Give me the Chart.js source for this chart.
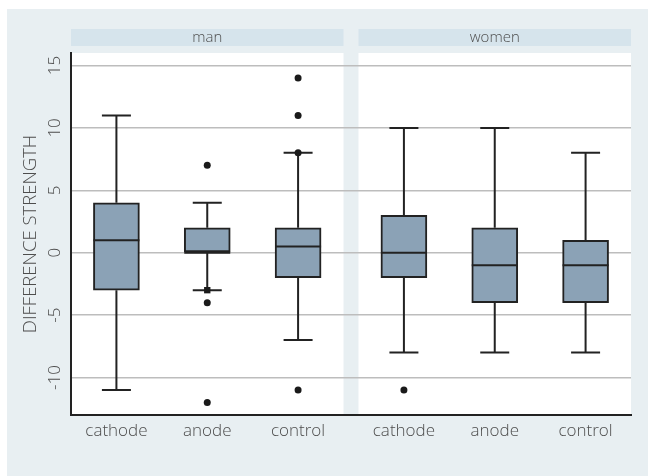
<!DOCTYPE html>
<html>
<head>
<meta charset="utf-8">
<title>Difference strength by stimulation</title>
<script src="https://cdn.jsdelivr.net/npm/chart.js@4"></script>
<style>
  html, body { margin: 0; padding: 0; background: #fff; }
  canvas { display: block; }
</style>
</head>
<body>
<canvas id="chart" width="648" height="476"></canvas>
<script>
// Data: one entry per panel, then per category
const panels = ['man', 'women'];
const categories = ['cathode', 'anode', 'control'];
const q1 = [[-3, 0, -2], [-2, -4, -4]];
const median = [[1, 0, 0.5], [0, -1, -1]];
const q3 = [[4, 2, 2], [3, 2, 1]];
const whiskerLow = [[-11, -3, -7], [-8, -8, -8]];
const whiskerHigh = [[11, 4, 8], [10, 10, 8]];
const outliers = [[[], [7, -4, -12], [14, 11, 8, -11]], [[-11], [], []]];
const marked = [[[], [-3], []], [[], [], []]];
const yTicks = [-10, -5, 0, 5, 10, 15];
const yMin = -13, yMax = 16;

const GAP = 0.165; // space between the two panels, in category widths
const BOX_W = 46;
const CAP_W = 29;
const LINE = '#222';
const TEXT = '#4d4d4d';
const FONT = '"Open Sans", "DejaVu Sans", sans-serif';

function panelStart(p) { return p * (categories.length + GAP); }
function pos(p, c) { return panelStart(p) + c + 0.5; }

const boxData = [];
const outlierData = [];
const markedData = [];
const tickPos = [];
const tickLabels = [];
panels.forEach((name, p) => {
    categories.forEach((cat, c) => {
        const x = pos(p, c);
        tickPos.push(x);
        tickLabels.push(cat);
        boxData.push({ x: x, y: [q1[p][c], q3[p][c]], p: p, c: c });
        outliers[p][c].forEach(v => outlierData.push({ x: x, y: v }));
        marked[p][c].forEach(v => markedData.push({ x: x, y: v }));
    });
});

// Background, white panels and strip headers
const panelBg = {
    id: 'panelBg',
    beforeDraw(chart) {
        const { ctx, chartArea: a, scales: { x } } = chart;
        ctx.save();
        ctx.fillStyle = '#e8eff2';
        ctx.fillRect(7, 9, chart.width - 7, chart.height - 9);
        panels.forEach((name, p) => {
            const l = x.getPixelForValue(panelStart(p));
            const r = x.getPixelForValue(panelStart(p) + categories.length);
            ctx.fillStyle = '#fff';
            ctx.fillRect(l, a.top, r - l, a.bottom - a.top);
            ctx.fillStyle = '#d6e4ec';
            ctx.fillRect(l, a.top - 24, r - l, 17);
            ctx.fillStyle = TEXT;
            ctx.font = '300 15px ' + FONT;
            ctx.textAlign = 'center';
            ctx.textBaseline = 'middle';
            ctx.fillText(name, (l + r) / 2, a.top - 15.5);
        });
        ctx.restore();
    }
};

// Whiskers and caps behind the boxes, medians on top
const boxParts = {
    id: 'boxParts',
    beforeDatasetsDraw(chart) {
        const { ctx, scales: { x, y } } = chart;
        ctx.save();
        ctx.strokeStyle = LINE;
        ctx.lineWidth = 2;
        boxData.forEach(b => {
            const px = x.getPixelForValue(b.x);
            const lo = y.getPixelForValue(whiskerLow[b.p][b.c]);
            const hi = y.getPixelForValue(whiskerHigh[b.p][b.c]);
            ctx.beginPath();
            ctx.moveTo(px, y.getPixelForValue(q3[b.p][b.c]));
            ctx.lineTo(px, hi);
            ctx.moveTo(px, y.getPixelForValue(q1[b.p][b.c]));
            ctx.lineTo(px, lo);
            ctx.moveTo(px - CAP_W / 2, hi);
            ctx.lineTo(px + CAP_W / 2, hi);
            ctx.moveTo(px - CAP_W / 2, lo);
            ctx.lineTo(px + CAP_W / 2, lo);
            ctx.stroke();
        });
        ctx.restore();
    },
    afterDatasetsDraw(chart) {
        const { ctx, scales: { x, y } } = chart;
        ctx.save();
        ctx.strokeStyle = LINE;
        ctx.lineWidth = 2;
        boxData.forEach(b => {
            const px = x.getPixelForValue(b.x);
            const m = y.getPixelForValue(median[b.p][b.c]);
            ctx.beginPath();
            ctx.moveTo(px - BOX_W / 2, m);
            ctx.lineTo(px + BOX_W / 2, m);
            ctx.stroke();
        });
        ctx.restore();
    }
};

const ctx = document.getElementById('chart').getContext('2d');
const chart = new Chart(ctx, {
    type: 'bar',
    data: {
        datasets: [
            {
                type: 'scatter',
                data: outlierData,
                pointStyle: 'circle',
                pointRadius: 3.5,
                backgroundColor: '#1a1a1a',
                borderColor: '#1a1a1a',
                borderWidth: 0,
                order: 0
            },
            {
                type: 'scatter',
                data: markedData,
                pointStyle: 'rect',
                pointRadius: 4.5,
                backgroundColor: '#1a1a1a',
                borderColor: '#1a1a1a',
                borderWidth: 0,
                order: 0
            },
            {
                data: boxData,
                backgroundColor: '#8ba2b6',
                borderColor: LINE,
                borderWidth: 2,
                borderSkipped: false,
                barThickness: BOX_W,
                order: 1
            }
        ]
    },
    options: {
        responsive: false,
        animation: false,
        layout: { padding: { left: 0, top: 53, right: 17, bottom: 0 } },
        plugins: {
            legend: { display: false },
            tooltip: { enabled: false }
        },
        scales: {
            x: {
                type: 'linear',
                offset: false,
                min: 0,
                max: panelStart(panels.length - 1) + categories.length,
                grid: { display: false, drawTicks: false },
                border: { display: true, color: LINE, width: 2 },
                afterBuildTicks: s => { s.ticks = tickPos.map(v => ({ value: v })); },
                ticks: {
                    autoSkip: false,
                    maxRotation: 0,
                    padding: 6,
                    color: TEXT,
                    font: { family: FONT, size: 17, weight: 300 },
                    callback: (v, i) => tickLabels[i]
                },
                afterFit: s => { s.height = 61; }
            },
            y: {
                min: yMin,
                max: yMax,
                afterBuildTicks: s => { s.ticks = yTicks.map(v => ({ value: v })); },
                grid: { color: '#bdbdbd', lineWidth: 1.5, drawTicks: false },
                border: { display: true, color: LINE, width: 2 },
                ticks: {
                    minRotation: 90,
                    maxRotation: 90,
                    crossAlign: 'center',
                    padding: 3,
                    color: TEXT,
                    font: { family: FONT, size: 17, weight: 300 }
                },
                title: {
                    display: true,
                    text: 'DIFFERENCE STRENGTH',
                    color: TEXT,
                    padding: { top: 20, bottom: 0 },
                    font: { family: FONT, size: 18.5, weight: 300 }
                },
                afterFit: s => { s.width = 71; }
            }
        }
    },
    plugins: [panelBg, boxParts]
});
</script>
</body>
</html>
